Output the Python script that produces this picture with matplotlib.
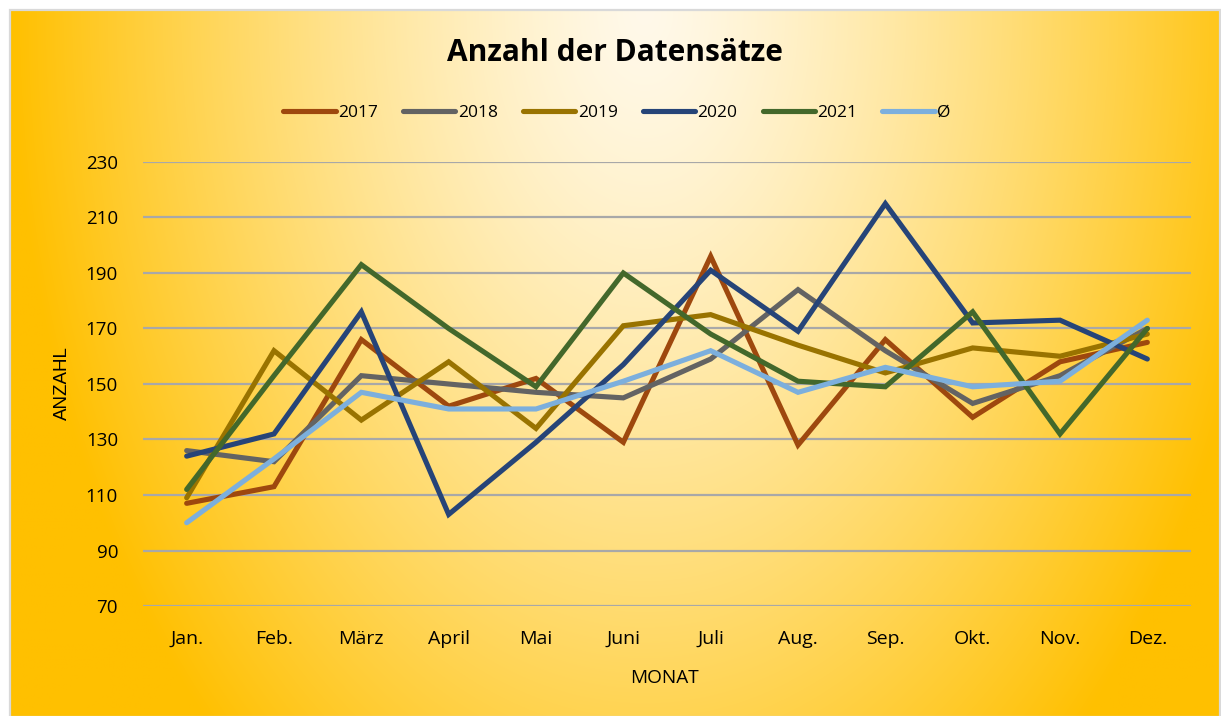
import numpy as np
import matplotlib
matplotlib.use("Agg")
import matplotlib.pyplot as plt
from matplotlib.patches import Rectangle
from matplotlib.colors import to_rgb

months = ["Jan.", "Feb.", "März", "April", "Mai", "Juni", "Juli", "Aug.", "Sep.", "Okt.", "Nov.", "Dez."]
s2017 = [107, 113, 166, 142, 152, 129, 196, 128, 166, 138, 158, 165]
s2018 = [126, 122, 153, 150, 147, 145, 159, 184, 162, 143, 153, 170]
s2019 = [109, 162, 137, 158, 134, 171, 175, 164, 154, 163, 160, 168]
s2020 = [124, 132, 176, 103, 129, 157, 191, 169, 215, 172, 173, 159]
s2021 = [112, 153, 193, 170, 149, 190, 168, 151, 149, 176, 132, 170]
s_avg = [100, 123, 147, 141, 141, 151, 162, 147, 156, 149, 151, 173]
series_names = ["2017", "2018", "2019", "2020", "2021", "Ø"]
series_vals = [s2017, s2018, s2019, s2020, s2021, s_avg]
colors = ["#9E480E", "#636363", "#997300", "#264478", "#43682B", "#7CAFDD"]
yticks = [70, 90, 110, 130, 150, 170, 190, 210, 230]

W, H = 1221, 716
fig = plt.figure(figsize=(W / 100, H / 100), dpi=100)
fig.patch.set_facecolor("white")

# background gradient
bg = fig.add_axes([0, 0, 1, 1], zorder=-10)
bg.set_xlim(0, W)
bg.set_ylim(H, 0)
bg.axis("off")
xx, yy = np.meshgrid(np.arange(W), np.arange(H))
d = np.sqrt(((xx - 640) / 640.0) ** 2 + ((yy - 0) / 1000.0) ** 2)
t = np.clip(d, 0, 1) ** 1.3
light = np.array(to_rgb("#FFF9EA"))
gold = np.array(to_rgb("#FFC000"))
img = light[None, None, :] * (1 - t[..., None]) + gold[None, None, :] * t[..., None]
bg.imshow(img, extent=[11, W - 1, H, 10], aspect="auto", interpolation="bilinear")
bg.add_patch(Rectangle((10, 9.5), W - 11, H - 9, fill=False, edgecolor="#D9D9D9", linewidth=1.6))

L, R, T, B = 143, 1191, 162, 606
ax = fig.add_axes([L / W, 1 - B / H, (R - L) / W, (B - T) / H])
ax.set_facecolor("none")
x = np.arange(len(months))
for name, vals, c in zip(series_names, series_vals, colors):
    ax.plot(x, vals, color=c, lw=3.7, label=name, solid_joinstyle="miter", solid_capstyle="round")

ax.set_xlim(-0.5, len(months) - 0.5)
ax.set_ylim(70, 230)
ax.set_yticks(yticks)
ax.set_xticks(x)
ax.set_xticklabels(months)
for s in ax.spines.values():
    s.set_visible(False)
ax.yaxis.grid(True, color="#A8A8A8", lw=1.6)
ax.set_axisbelow(True)
ax.tick_params(axis="both", length=0, colors="black")
ax.tick_params(axis="x", pad=17, labelsize=14)
ax.tick_params(axis="y", pad=18, labelsize=13.5)
for lab in ax.get_xticklabels() + ax.get_yticklabels():
    lab.set_family("Open Sans")

fig.text(615 / W, 1 - 53 / H, "Anzahl der Datensätze", ha="center", va="center",
         fontsize=21.5, fontweight="bold", family="Open Sans")
fig.text(62 / W, 1 - 383 / H, "ANZAHL", rotation=90, ha="center", va="center",
         fontsize=13.5, family="Liberation Sans")
fig.text(665 / W, 1 - 678 / H, "MONAT", ha="center", va="center", fontsize=13.7, family="Open Sans")

leg = fig.legend(loc="center", bbox_to_anchor=(617 / W, 1 - 113 / H), ncol=6, frameon=False,
                 handlelength=3.0, handletextpad=0.15, columnspacing=1.45,
                 prop={"family": ["Open Sans", "DejaVu Sans"], "size": 12.5})
for line in leg.get_lines():
    line.set_linewidth(3.7)

fig.savefig("out.png", dpi=100)
